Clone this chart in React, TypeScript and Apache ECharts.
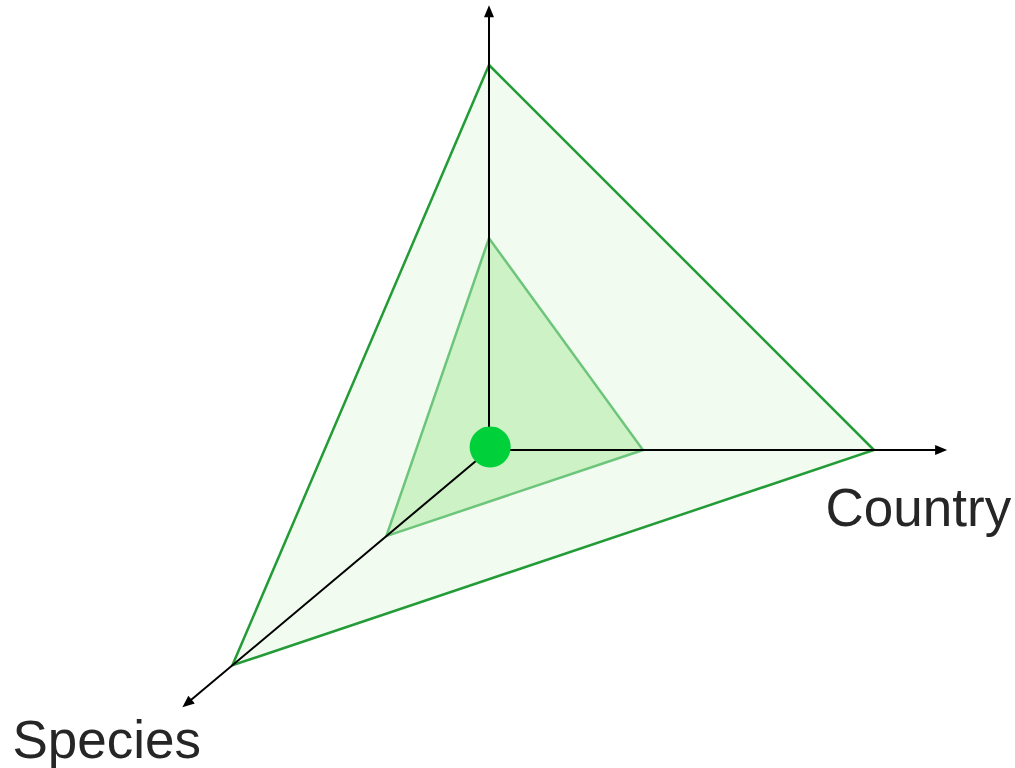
import React, { useEffect, useRef } from "react";
import * as echarts from "echarts";

// Axis names (vertical, horizontal, diagonal)
const axisNames = ["", "Country", "Species"];
// Length of each drawn axis (in value units)
const axisLengths = [115.5, 119, 119.5];
// Triangle values on each axis
const outerValues = [100, 100, 100];
const innerValues = [55, 40, 40];
// Centre point
const centerPoint = [0.3, 0.8];

// Layout / projection constants
const UNIT_PX = 3.85;
const ORIGIN_PX = [489, 450];
const W = 1015;
const H = 768;
const DIAG_ANGLE = (220 * Math.PI) / 180;
const DIAG_SCALE = 0.87;
const DIRS = [
  [0, 1, 1],
  [1, 0, 1],
  [Math.cos(DIAG_ANGLE), Math.sin(DIAG_ANGLE), DIAG_SCALE],
];

function project(axis: number, v: number): number[] {
  const d = DIRS[axis];
  return [d[0] * d[2] * v, d[1] * d[2] * v];
}

const LABEL_OFFSETS: Record<number, { dx: number; dy: number; align: string }> = {
  1: { dx: 64, dy: 57, align: "right" },
  2: { dx: -170, dy: 32, align: "left" },
};

export default function App() {
  const ref = useRef<HTMLDivElement>(null);
  useEffect(() => {
    if (!ref.current) return;
    const chart = echarts.init(ref.current, undefined, { renderer: "svg" });
    const triStyles = [
      { fill: "#f1fbf0", stroke: "#239c37" },
      { fill: "#ccf2c5", stroke: "#6dc57b" },
    ];
    chart.setOption({
      animation: false,
      backgroundColor: "#ffffff",
      grid: { left: 0, right: 0, top: 0, bottom: 0 },
      xAxis: {
        type: "value",
        min: -ORIGIN_PX[0] / UNIT_PX,
        max: (W - ORIGIN_PX[0]) / UNIT_PX,
        show: false,
      },
      yAxis: {
        type: "value",
        min: -(H - ORIGIN_PX[1]) / UNIT_PX,
        max: ORIGIN_PX[1] / UNIT_PX,
        show: false,
      },
      series: [
        {
          type: "custom",
          coordinateSystem: "cartesian2d",
          data: [outerValues, innerValues],
          silent: true,
          z: 1,
          renderItem: (params: any, api: any) => {
            const pts = [0, 1, 2].map((i) => api.coord(project(i, api.value(i))));
            const s = triStyles[params.dataIndex];
            return {
              type: "polygon",
              shape: { points: pts },
              style: { fill: s.fill, stroke: s.stroke, lineWidth: 2.5, lineJoin: "miter" },
            };
          },
        },
        {
          type: "custom",
          coordinateSystem: "cartesian2d",
          data: axisLengths.map((len, i) => [i, len]),
          silent: true,
          z: 2,
          renderItem: (params: any, api: any) => {
            const i = api.value(0);
            const len = api.value(1);
            const p0 = api.coord([0, 0]);
            const tip = api.coord(project(i, len));
            const dx = tip[0] - p0[0];
            const dy = tip[1] - p0[1];
            const L = Math.sqrt(dx * dx + dy * dy);
            const ux = dx / L;
            const uy = dy / L;
            const headLen = 12;
            const headW = 5;
            const bx = tip[0] - ux * headLen;
            const by = tip[1] - uy * headLen;
            const px = -uy;
            const py = ux;
            const children: any[] = [
              {
                type: "line",
                shape: { x1: p0[0], y1: p0[1], x2: bx + ux * 2, y2: by + uy * 2 },
                style: { stroke: "#000000", lineWidth: 2 },
              },
              {
                type: "polygon",
                shape: {
                  points: [
                    tip,
                    [bx + px * headW, by + py * headW],
                    [bx - px * headW, by - py * headW],
                  ],
                },
                style: { fill: "#000000" },
              },
            ];
            const name = axisNames[i];
            const off = LABEL_OFFSETS[i];
            if (name && off) {
              children.push({
                type: "text",
                style: {
                  text: name,
                  x: tip[0] + off.dx,
                  y: tip[1] + off.dy,
                  align: off.align,
                  verticalAlign: "middle",
                  fill: "#262626",
                  font: '53px "Liberation Sans", Arial, sans-serif',
                },
              });
            }
            return { type: "group", children };
          },
        },
        {
          type: "scatter",
          data: [centerPoint],
          symbol: "circle",
          symbolSize: 41,
          itemStyle: { color: "#00d13a", opacity: 1 },
          silent: true,
          z: 3,
        },
      ],
    });
    return () => chart.dispose();
  }, []);
  return (
    <div
      ref={ref}
      style={{ position: "fixed", left: 0, top: 0, width: W, height: H }}
    />
  );
}
